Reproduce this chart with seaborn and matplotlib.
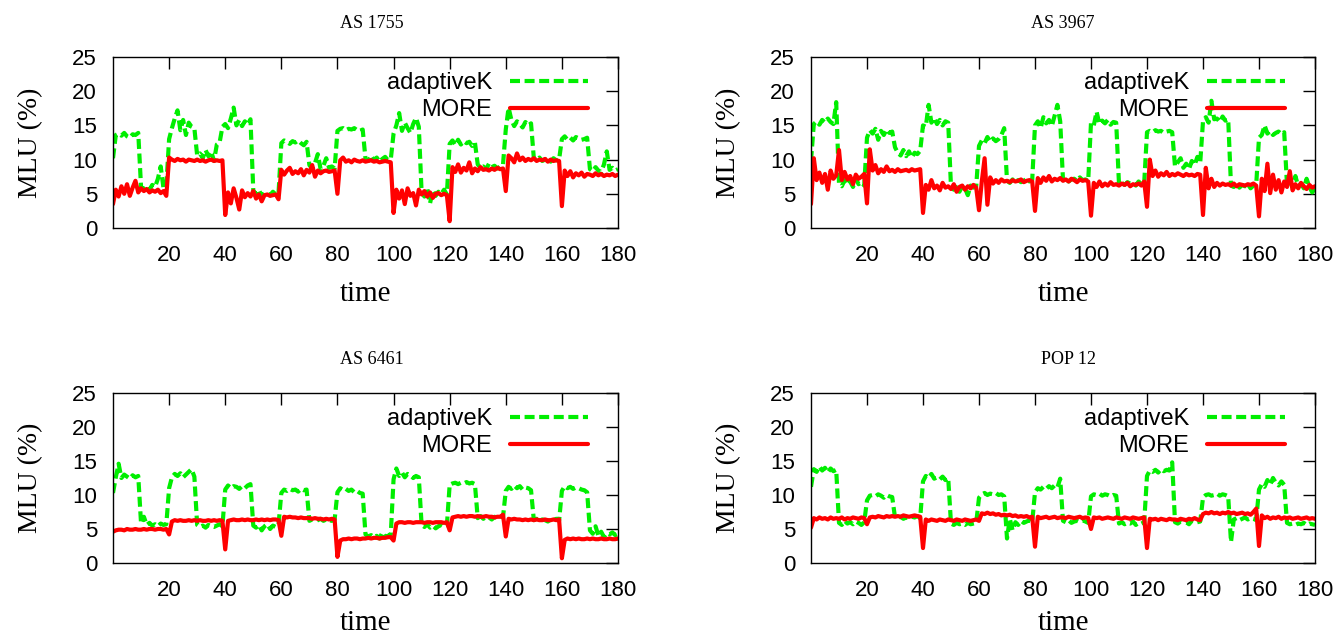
import matplotlib
matplotlib.use("Agg")
import matplotlib.pyplot as plt
import numpy as np
import pandas as pd
import seaborn as sns

# time axis: one sample per time unit
time = list(range(0, 181))

titles = ["AS 1755", "AS 3967", "AS 6461", "POP 12"]
series_names = ["adaptiveK", "MORE"]
x_ticks = [20, 40, 60, 80, 100, 120, 140, 160, 180]
y_ticks = [0, 5, 10, 15, 20, 25]

# ---- AS 1755 ----
as1755_adaptivek = [
    10.2, 13.6, 13.8, 13.5, 13.9, 13.4, 13.2, 13.7, 13.6, 13.9,
    6.0, 5.7, 6.2, 5.6, 6.3, 6.0, 7.2, 9.0, 5.8, 6.1,
    13.0, 14.6, 16.0, 17.2, 14.3, 15.8, 13.6, 15.4, 14.8, 14.6,
    10.6, 10.9, 10.2, 11.4, 10.5, 11.2, 9.8, 12.2, 12.5, 14.8,
    15.2, 14.6, 16.0, 17.6, 15.0, 15.8, 14.9, 15.6, 15.1, 15.9,
    5.5, 4.9, 5.6, 4.6, 5.2, 5.0, 4.8, 5.3, 4.9, 5.1,
    12.4, 12.8, 12.6, 12.3, 12.7, 12.5, 12.8, 12.4, 12.1, 12.6,
    9.2, 8.7, 9.5, 10.8, 8.6, 9.1, 10.2, 8.8, 9.0, 8.7,
    14.2, 14.5, 14.6, 14.3, 14.5, 14.4, 14.6, 14.3, 14.2, 14.4,
    10.1, 9.8, 10.6, 9.9, 10.3, 9.7, 10.1, 10.4, 9.9, 10.0,
    13.8, 15.0, 16.8, 14.2, 15.4, 14.6, 13.9, 15.2, 16.1, 14.8,
    5.2, 4.6, 5.8, 3.6, 5.5, 4.7, 5.3, 5.0, 5.6, 4.9,
    12.3, 12.8, 12.1, 12.9, 12.2, 12.7, 12.4, 12.6, 12.0, 12.5,
    9.3, 8.8, 9.0, 8.6, 9.4, 8.9, 9.1, 8.7, 9.0, 9.2,
    14.4, 17.6, 15.8, 14.9, 15.6, 15.2, 14.7, 15.5, 15.0, 15.3,
    10.2, 9.9, 10.3, 9.8, 10.0, 10.1, 9.7, 10.2, 9.9, 10.0,
    13.0, 13.4, 12.9, 13.2, 12.8, 13.3, 13.1, 12.9, 13.0, 13.2,
    8.6, 8.3, 8.9, 8.4, 8.2, 9.3, 11.2, 8.5, 8.8, 8.4,
    8.6,
]
as1755_more = [
    3.5, 5.6, 4.6, 6.1, 5.0, 6.4, 4.7, 5.9, 6.9, 5.2,
    5.8, 5.4, 5.7, 5.2, 5.5, 5.3, 5.6, 5.1, 5.4, 4.7,
    10.3, 10.0, 9.8, 10.1, 9.9, 10.0, 9.7, 10.0, 9.9, 9.8,
    10.0, 9.8, 9.9, 9.7, 9.9, 10.0, 9.8, 9.9, 9.8, 9.9,
    1.9, 5.2, 3.6, 5.8, 4.4, 2.7, 5.5, 4.5, 5.1, 4.6,
    5.4, 4.3, 4.9, 3.9, 4.8, 4.9, 4.7, 4.8, 4.9, 4.2,
    8.5, 7.8, 8.4, 8.8, 7.9, 8.3, 8.0, 8.6, 7.7, 8.5,
    8.1, 9.2, 7.5, 8.4, 8.0, 8.3, 8.4, 8.2, 8.3, 8.4,
    5.0, 9.9, 10.3, 9.7, 9.9, 9.6, 10.0, 9.8, 9.7, 9.9,
    9.7, 9.8, 9.9, 9.7, 9.8, 9.6, 9.7, 9.8, 9.7, 9.6,
    2.2, 5.6, 4.3, 5.5, 3.5, 5.8, 4.7, 5.1, 3.3, 5.6,
    4.9, 5.4, 4.6, 5.2, 4.4, 5.0, 5.1, 4.8, 5.0, 4.8,
    1.0, 8.9, 8.2, 9.3, 8.1, 8.8, 8.4, 9.6, 8.0, 8.7,
    8.3, 8.9, 8.5, 8.6, 8.4, 8.7, 8.5, 8.8, 8.6, 8.7,
    5.4, 10.6, 10.2, 9.6, 10.9, 9.9, 10.3, 9.8, 10.1, 9.9,
    10.2, 9.8, 10.0, 9.9, 10.1, 9.7, 10.0, 9.8, 9.9, 9.8,
    3.2, 8.4, 7.6, 8.3, 7.4, 8.0, 7.7, 8.1, 7.5, 7.9,
    7.8, 7.6, 8.0, 7.7, 7.9, 7.6, 7.8, 7.7, 7.9, 7.6,
    7.8,
]

# ---- AS 3967 ----
as3967_adaptivek = [
    9.8, 15.2, 15.6, 15.1, 15.8, 15.4, 16.0, 15.5, 15.2, 18.4,
    6.5, 6.1, 7.0, 6.3, 6.8, 6.0, 7.2, 6.4, 6.7, 6.2,
    13.2, 14.3, 13.8, 14.5, 12.9, 14.2, 13.6, 14.4, 13.9, 14.1,
    11.8, 11.0, 10.6, 11.4, 10.5, 11.2, 10.3, 11.0, 10.8, 11.3,
    15.0, 14.8, 18.0, 15.4, 16.1, 15.2, 15.8, 15.0, 15.6, 15.4,
    6.0, 5.6, 6.3, 5.3, 6.1, 5.8, 4.8, 6.2, 5.9, 6.1,
    12.0, 12.8, 12.4, 13.3, 12.6, 13.1, 12.7, 13.0, 13.6, 14.6,
    6.9, 6.6, 7.1, 6.8, 7.0, 6.7, 6.9, 7.2, 6.8, 7.0,
    15.0, 15.6, 14.6, 16.2, 15.3, 15.8, 14.9, 16.4, 18.0, 15.6,
    7.0, 7.3, 6.8, 7.1, 7.2, 6.9, 7.4, 7.0, 7.1, 6.9,
    15.4, 15.0, 17.0, 15.2, 15.7, 15.3, 15.8, 15.1, 15.5, 15.4,
    6.4, 6.6, 6.3, 6.7, 6.5, 6.6, 6.2, 6.8, 6.4, 6.6,
    14.0, 14.2, 14.0, 14.3, 14.1, 14.2, 13.9, 14.1, 14.2, 14.0,
    9.0, 9.6, 10.2, 8.8, 9.4, 8.6, 9.8, 9.2, 10.4, 9.5,
    15.6, 16.2, 15.4, 18.6, 15.9, 16.0, 15.5, 16.3, 15.7, 15.9,
    6.2, 6.0, 6.5, 5.9, 6.3, 6.1, 6.4, 5.8, 6.2, 6.3,
    13.2, 13.6, 15.0, 13.8, 14.2, 13.6, 13.9, 14.1, 13.7, 14.0,
    6.3, 6.8, 5.9, 7.6, 6.1, 6.5, 5.8, 7.2, 6.0, 5.2,
    5.8,
]
as3967_more = [
    3.5, 10.2, 7.0, 8.1, 6.6, 7.9, 5.6, 8.4, 7.2, 7.7,
    11.4, 7.0, 8.2, 7.1, 7.6, 6.4, 7.8, 7.2, 7.5, 7.9,
    3.6, 11.5, 8.4, 9.2, 8.0, 8.6, 8.2, 9.0, 8.3, 8.5,
    8.2, 8.6, 8.3, 8.4, 8.5, 8.3, 8.6, 8.4, 8.5, 8.6,
    2.2, 6.3, 5.6, 7.0, 5.8, 6.2, 5.5, 6.6, 5.9, 6.1,
    5.7, 6.4, 5.3, 6.0, 6.2, 5.6, 6.1, 5.8, 6.3, 5.9,
    2.6, 6.8, 10.2, 3.4, 7.4, 6.5, 7.0, 6.6, 7.1, 6.8,
    6.9, 6.7, 7.0, 6.8, 6.9, 7.1, 6.7, 6.9, 7.0, 6.8,
    2.5, 7.3, 6.6, 7.4, 6.9, 7.6, 6.8, 7.2, 7.0, 7.3,
    6.9, 7.1, 6.8, 7.2, 7.0, 6.7, 7.1, 6.9, 7.0, 6.8,
    1.8, 6.6, 6.0, 6.8, 6.1, 6.5, 6.2, 6.7, 6.3, 6.4,
    6.2, 6.5, 6.3, 6.6, 6.1, 6.4, 6.3, 6.5, 6.2, 6.8,
    3.1, 10.0, 7.6, 8.4, 7.5, 8.0, 7.7, 8.2, 7.6, 7.9,
    7.7, 8.0, 7.8, 7.6, 7.9, 7.7, 7.8, 7.6, 7.9, 7.8,
    1.9, 8.8, 5.8, 7.2, 6.0, 6.6, 6.2, 6.5, 6.3, 6.4,
    6.2, 6.5, 6.1, 6.4, 6.3, 6.2, 6.4, 6.3, 6.5, 6.2,
    1.7, 7.2, 5.4, 9.4, 5.1, 7.8, 5.6, 7.0, 5.2, 6.8,
    6.0, 8.3, 5.5, 6.4, 5.8, 6.6, 6.1, 5.7, 6.3, 5.9,
    6.1,
]

# ---- AS 6461 ----
as6461_adaptivek = [
    10.3, 12.6, 14.6, 12.5, 13.0, 12.7, 12.4, 12.9, 12.6, 12.8,
    5.8, 6.8, 5.6, 5.9, 5.5, 5.7, 5.4, 5.8, 5.6, 5.7,
    11.0, 12.6, 13.1, 12.8, 13.2, 12.6, 13.0, 13.4, 13.8, 12.7,
    5.6, 5.3, 5.5, 5.2, 5.6, 5.4, 5.3, 5.5, 5.7, 5.4,
    10.8, 11.4, 11.0, 11.3, 11.2, 10.9, 11.3, 11.0, 11.4, 11.6,
    5.5, 5.2, 5.6, 4.8, 5.4, 5.7, 5.0, 5.5, 5.3, 5.6,
    10.3, 10.8, 10.6, 10.9, 10.7, 10.8, 10.5, 10.9, 10.7, 10.8,
    6.2, 6.4, 6.1, 6.3, 6.5, 6.2, 6.4, 6.3, 6.2, 6.4,
    10.4, 11.0, 10.7, 10.9, 10.6, 10.8, 10.4, 10.6, 10.3, 10.2,
    4.2, 3.9, 4.1, 3.8, 4.0, 3.6, 4.5, 3.9, 4.0, 4.2,
    12.3, 13.9, 12.8, 13.3, 12.6, 13.1, 12.9, 12.5, 12.8, 12.6,
    5.6, 5.3, 5.7, 5.2, 5.5, 5.1, 5.4, 5.6, 5.3, 5.5,
    11.5, 11.7, 11.8, 11.6, 11.8, 11.7, 11.9, 11.7, 11.8, 11.6,
    6.6, 6.9, 6.5, 6.8, 6.7, 6.4, 6.8, 6.6, 6.9, 6.7,
    10.6, 11.2, 10.9, 11.4, 11.0, 11.3, 10.8, 11.1, 11.0, 10.7,
    6.3, 6.5, 6.2, 6.4, 6.3, 6.1, 6.4, 6.3, 6.5, 6.2,
    10.6, 11.3, 11.0, 11.2, 10.9, 11.1, 11.0, 10.8, 10.7, 10.4,
    4.8, 4.3, 5.4, 4.0, 4.6, 3.8, 4.4, 4.2, 4.5, 4.1,
    4.3,
]
as6461_more = [
    4.6, 4.8, 4.9, 4.9, 4.8, 5.0, 4.9, 4.9, 5.0, 4.9,
    4.9, 5.0, 4.9, 5.0, 5.0, 4.9, 5.0, 5.0, 4.9, 5.0,
    4.2, 6.1, 6.3, 6.2, 6.3, 6.2, 6.2, 6.3, 6.2, 6.3,
    6.2, 6.3, 6.2, 6.2, 6.3, 6.2, 6.3, 6.2, 6.3, 6.2,
    2.0, 6.2, 6.3, 6.4, 6.3, 6.3, 6.4, 6.3, 6.4, 6.3,
    6.3, 6.4, 6.3, 6.4, 6.3, 6.4, 6.3, 6.4, 6.4, 6.3,
    4.0, 6.8, 6.7, 6.8, 6.7, 6.7, 6.6, 6.7, 6.6, 6.6,
    6.6, 6.5, 6.6, 6.5, 6.5, 6.4, 6.5, 6.4, 6.5, 6.4,
    0.9, 3.3, 3.5, 3.5, 3.6, 3.5, 3.6, 3.6, 3.5, 3.6,
    3.6, 3.7, 3.6, 3.7, 3.7, 3.6, 3.7, 3.7, 3.8, 3.8,
    3.3, 5.8, 6.0, 6.0, 5.9, 6.0, 6.0, 5.9, 6.0, 6.0,
    6.0, 5.9, 6.0, 6.0, 5.9, 6.0, 6.0, 6.0, 5.9, 6.0,
    4.8, 6.7, 6.8, 6.9, 6.8, 6.9, 6.8, 6.9, 6.9, 6.8,
    6.9, 6.8, 6.8, 6.9, 6.8, 6.8, 6.7, 6.8, 6.8, 7.1,
    3.9, 6.5, 6.4, 6.5, 6.4, 6.4, 6.3, 6.4, 6.3, 6.4,
    6.3, 6.4, 6.3, 6.3, 6.4, 6.3, 6.3, 6.4, 6.3, 6.4,
    0.7, 3.4, 3.6, 3.5, 3.6, 3.5, 3.6, 3.5, 3.5, 3.6,
    3.5, 3.6, 3.5, 3.5, 3.6, 3.5, 3.5, 3.6, 3.5, 3.5,
    3.6,
]

# ---- POP 12 ----
pop12_adaptivek = [
    11.2, 13.8, 13.4, 14.2, 13.6, 14.0, 13.3, 13.9, 13.5, 13.7,
    5.9, 5.6, 6.2, 5.8, 6.0, 5.7, 6.1, 5.9, 5.6, 6.0,
    9.2, 9.9, 10.0, 9.8, 10.1, 9.9, 9.6, 10.0, 9.8, 9.7,
    6.7, 6.6, 6.8, 6.5, 6.7, 6.6, 6.8, 6.7, 6.9, 6.6,
    12.0, 12.8, 12.5, 13.1, 12.4, 12.6, 12.3, 12.7, 12.2, 12.5,
    5.8, 5.6, 5.9, 5.7, 5.8, 5.6, 5.9, 5.7, 5.8, 5.9,
    9.6, 10.1, 10.3, 10.0, 10.2, 10.1, 10.3, 10.0, 10.1, 9.8,
    3.6, 6.5, 4.8, 6.0, 5.6, 6.2, 5.9, 6.1, 6.3, 6.0,
    10.4, 11.0, 10.8, 11.2, 10.9, 11.3, 11.0, 11.4, 11.1, 12.4,
    6.2, 6.0, 6.3, 5.9, 6.1, 6.2, 6.0, 6.3, 6.1, 5.9,
    9.8, 10.1, 10.0, 10.2, 9.9, 10.1, 10.0, 9.8, 10.0, 9.9,
    5.8, 6.0, 5.7, 5.9, 5.8, 6.1, 5.6, 5.9, 5.8, 6.0,
    12.8, 13.6, 13.4, 13.7, 13.3, 13.8, 13.5, 13.7, 13.6, 14.8,
    6.0, 5.8, 6.1, 5.9, 6.0, 5.7, 6.2, 5.9, 6.0, 6.1,
    9.6, 10.0, 10.1, 9.9, 10.0, 10.2, 9.9, 10.1, 10.0, 9.8,
    3.1, 6.4, 6.6, 6.3, 6.5, 6.7, 6.4, 6.6, 6.5, 6.3,
    10.8, 11.6, 11.2, 12.2, 11.5, 12.5, 11.8, 11.4, 12.0, 11.5,
    5.9, 5.7, 5.8, 5.6, 5.8, 5.7, 5.9, 5.6, 5.8, 5.7,
    5.6,
]
pop12_more = [
    5.2, 6.6, 6.4, 6.7, 6.5, 6.6, 6.4, 6.7, 6.5, 6.6,
    6.5, 6.7, 6.4, 6.6, 6.5, 6.7, 6.6, 6.5, 6.7, 6.6,
    5.7, 6.7, 6.8, 6.7, 6.9, 6.8, 6.7, 6.9, 6.8, 6.9,
    6.8, 6.9, 6.8, 7.0, 6.9, 6.8, 6.9, 7.0, 6.9, 6.8,
    2.2, 6.4, 6.2, 6.4, 6.3, 6.2, 6.4, 6.3, 6.2, 6.4,
    6.3, 6.2, 6.4, 6.3, 6.2, 6.4, 6.3, 6.2, 6.3, 6.4,
    6.2, 7.3, 7.2, 7.4, 7.2, 7.3, 7.1, 7.2, 7.0, 7.1,
    7.0, 7.1, 6.9, 7.0, 6.8, 6.9, 6.8, 6.9, 6.7, 6.8,
    2.4, 6.8, 6.6, 6.7, 6.8, 6.6, 6.7, 6.8, 6.6, 6.7,
    6.7, 6.6, 6.8, 6.7, 6.6, 6.7, 6.8, 6.6, 6.7, 6.6,
    5.0, 6.7, 6.6, 6.7, 6.5, 6.6, 6.7, 6.6, 6.5, 6.7,
    6.6, 6.5, 6.7, 6.6, 6.5, 6.7, 6.6, 6.5, 6.6, 6.7,
    2.2, 6.5, 6.4, 6.5, 6.3, 6.5, 6.4, 6.3, 6.5, 6.4,
    6.4, 6.3, 6.5, 6.4, 6.3, 6.5, 6.4, 6.6, 6.4, 6.3,
    7.2, 7.4, 7.3, 7.5, 7.3, 7.4, 7.2, 7.4, 7.3, 7.5,
    7.3, 7.4, 7.2, 7.3, 7.4, 7.2, 7.3, 7.1, 7.5, 8.0,
    2.5, 7.0, 6.6, 6.8, 6.5, 6.7, 6.6, 6.8, 6.5, 6.7,
    6.6, 6.7, 6.5, 6.6, 6.7, 6.5, 6.6, 6.7, 6.5, 6.6,
    6.5,
]

panels = [
    (as1755_adaptivek, as1755_more),
    (as3967_adaptivek, as3967_more),
    (as6461_adaptivek, as6461_more),
    (pop12_adaptivek, pop12_more),
]

sns.set_theme(style="white")
plt.rcParams["font.family"] = ["Liberation Sans", "DejaVu Sans"]
plt.rcParams["axes.linewidth"] = 1.0
plt.rcParams["axes.edgecolor"] = "black"
plt.rcParams["text.color"] = "black"
plt.rcParams["axes.labelcolor"] = "black"
plt.rcParams["xtick.color"] = "black"
plt.rcParams["ytick.color"] = "black"

GREEN = "#00ee00"
RED = "#ff0000"
SERIF = ["Liberation Serif", "DejaVu Serif"]

fig = plt.figure(figsize=(13.41, 6.37), dpi=100)
W, H = 1341.0, 637.0
boxes = [
    (113, 57, 618, 228),
    (811, 57, 1315, 228),
    (113, 393, 618, 563),
    (811, 393, 1315, 563),
]
title_x = [0.513, 0.5, 0.513, 0.51]
xlabel_pad = [11, 11, 7, 7]

for (x0, y0, x1, y1), title, tx, xpad, (ak, more) in zip(
        boxes, titles, title_x, xlabel_pad, panels):
    ax = fig.add_axes([x0 / W, 1 - y1 / H, (x1 - x0) / W, (y1 - y0) / H])
    df = pd.DataFrame({"time": time, series_names[0]: ak, series_names[1]: more})
    sns.lineplot(data=df, x="time", y=series_names[0], ax=ax, color=GREEN,
                 lw=3.0, linestyle=(0, (2.4, 1.1)), estimator=None,
                 label=series_names[0])
    sns.lineplot(data=df, x="time", y=series_names[1], ax=ax, color=RED,
                 lw=3.0, estimator=None, label=series_names[1])
    ax.set_xlim(0, 180)
    ax.set_ylim(0, 25)
    ax.set_xticks(x_ticks)
    ax.set_yticks(y_ticks)
    ax.tick_params(direction="in", length=8.5, width=1.0, top=True, right=True,
                   labelsize=16, colors="black")
    ax.tick_params(axis="x", pad=12)
    ax.tick_params(axis="y", pad=11.5)
    for s in ax.spines.values():
        s.set_visible(True)
        s.set_color("black")
        s.set_linewidth(1.0)
    ax.set_title(title, family=SERIF, fontsize=13, pad=21, x=tx)
    ax.set_xlabel("time", family=SERIF, fontsize=21, labelpad=xpad)
    ax.set_ylabel("MLU (%)", family=SERIF, fontsize=20, labelpad=21)
    ax.legend(loc="upper right", bbox_to_anchor=(0.94, 0.91), frameon=False,
              markerfirst=False, fontsize=17, handlelength=3.3,
              handletextpad=0.75, labelspacing=0.2, borderaxespad=0,
              borderpad=0)

fig.savefig("out.png", dpi=100)
